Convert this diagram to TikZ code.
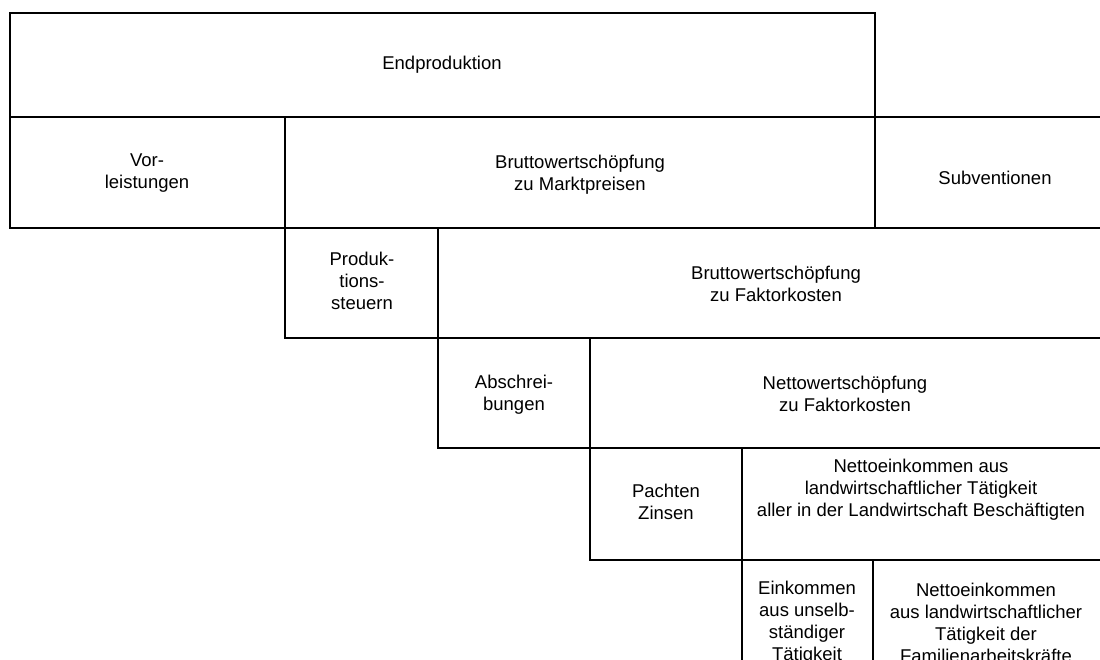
\documentclass[tikz,border=0pt]{standalone}
\usepackage{fontspec}
\setmainfont{Liberation Sans}
\begin{document}
\begin{tikzpicture}[x=1pt,y=-1pt,
  cell/.style={draw=black,line width=1.8pt,rectangle,inner sep=0pt,outer sep=0pt,anchor=north west},
  txt/.style={font=\fontsize{18.5}{22}\selectfont,align=center,inner sep=0pt,text=black}]
\useasboundingbox (0,0) rectangle (1100,660);
\clip (0,0) rectangle (1100,660);
% boxes
\node[cell,minimum width=865pt,minimum height=104pt] (b1) at (10,13) {};
\node[cell,minimum width=275pt,minimum height=111pt] (b2) at (10,117) {};
\node[cell,minimum width=590pt,minimum height=111pt] (b3) at (285,117) {};
\node[cell,minimum width=235pt,minimum height=111pt] (b4) at (875,117) {};
\node[cell,minimum width=153pt,minimum height=110pt] (b5) at (285,228) {};
\node[cell,minimum width=672pt,minimum height=110pt] (b6) at (438,228) {};
\node[cell,minimum width=152pt,minimum height=110pt] (b7) at (438,338) {};
\node[cell,minimum width=520pt,minimum height=110pt] (b8) at (590,338) {};
\node[cell,minimum width=152pt,minimum height=112pt] (b9) at (590,448) {};
\node[cell,minimum width=368pt,minimum height=112pt] (b10) at (742,448) {};
\node[cell,minimum width=131pt,minimum height=130pt] (b11) at (742,560) {};
\node[cell,minimum width=237pt,minimum height=130pt] (b12) at (873,560) {};
% texts
\node[txt] (t1) at (442,65) {Endproduktion};
\node[txt] (t2) at (147,173) {Vor-\\leistungen};
\node[txt] (t3) at (580,175) {Bruttowertschöpfung\\zu Marktpreisen};
\node[txt] (t4) at (995,178) {Subventionen};
\node[txt] (t5) at (362,281) {Produk-\\tions-\\steuern};
\node[txt] (t6) at (776,284) {Bruttowertschöpfung\\zu Faktorkosten};
\node[txt] (t7) at (514,395) {Abschrei-\\bungen};
\node[txt] (t8) at (845,394) {Nettowertschöpfung\\zu Faktorkosten};
\node[txt] (t9) at (666,502) {Pachten\\Zinsen};
\node[txt] (t10) at (921,490) {Nettoeinkommen aus\\landwirtschaftlicher Tätigkeit\\aller in der Landwirtschaft Beschäftigten};
\node[txt] (t11) at (807,623) {Einkommen\\aus unselb-\\ständiger\\Tätigkeit};
\node[txt] (t12) at (986,623) {Nettoeinkommen\\aus landwirtschaftlicher\\Tätigkeit der\\Familienarbeitskräfte};
\end{tikzpicture}
\end{document}
